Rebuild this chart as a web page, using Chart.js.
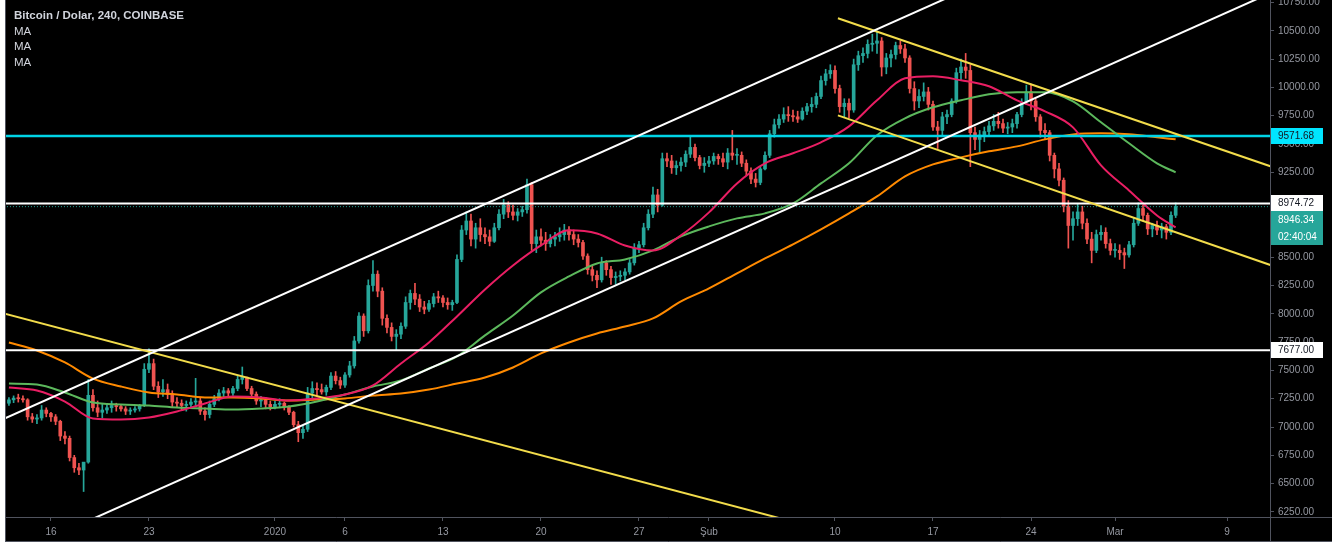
<!DOCTYPE html>
<html>
<head>
<meta charset="utf-8">
<title>Bitcoin / Dolar, 240, COINBASE</title>
<script src="https://cdn.jsdelivr.net/npm/chart.js@4.4.0/dist/chart.umd.min.js"></script>
<style>
  html, body { margin: 0; padding: 0; background: #fff; }
  #wrap { position: relative; width: 1332px; height: 544px; }
  #chart { position: absolute; left: 0; top: 0; }
  #legend {
    position: absolute; left: 14px; top: 8px;
    color: #d1d4dc; font: 11.5px 'Liberation Sans', Arial, sans-serif; line-height: 15.6px;
  }
</style>
</head>
<body>
<div id="wrap">
  <canvas id="chart" width="1332" height="544"></canvas>
  <div id="legend"><b>Bitcoin / Dolar, 240, COINBASE</b><br>MA<br>MA<br>MA</div>
</div>
<script>
// --- Data: 8h candles starting 13 Dec 2019 00:00 (day 1 = 1 Dec 2019) ---
// open of each candle = close of the previous one
const startDay = 13;
const candleStep = 1 / 3;
const firstOpen = 7210;

const highs = [
  // Dec
  7260,7275,7290, 7275,7250,7120, 7110,7190,7170, 7130,7110,7060, 6960,6920,6750,
  6680,6660,7420, 7330,7230,7200, 7200,7230,7210, 7200,7180,7170, 7180,7200,7560,
  7690,7600,7400, 7420,7380,7320, 7260,7240,7230, 7250,7430,7260, 7170,7230,7280,
  7330,7350,7340, 7360,7450,7530, 7440,7360,7310, 7270,7260,7230,
  // Jan
  7230,7250,7220, 7190,7140,7050, 7010,7350,7400, 7390,7380,7370, 7480,7490,7440,
  7480,7580,7800, 8010,8000,8300, 8470,8380,8230, 7990,7920,7860, 7920,8150,8210,
  8270,8170,8110, 8120,8180,8200, 8160,8140,8120, 8520,8780,8900, 8880,8800,8840,
  8760,8740,8800, 8920,9010,8990, 8960,8930,8950, 9190,9160,8740, 8750,8720,8700,
  8720,8760,8790, 8770,8740,8700, 8650,8530,8420, 8380,8500,8470, 8420,8370,8380,
  8400,8480,8620, 8640,8800,8920, 9120,9100,9420, 9420,9400,9350, 9380,9440,9560,
  9500,9400,9380,
  // Feb
  9390,9420,9410, 9420,9460,9620, 9460,9430,9360, 9290,9240,9300, 9430,9620,9720,
  9760,9820,9830, 9800,9790,9820, 9860,9910,9950, 10100,10160,10200, 10190,10020,9900,
  9900,10250,10320, 10350,10420,10470, 10500,10440,10300, 10330,10400,10410, 10380,10280,10050,
  9980,10040,10000, 9880,9700,9780, 9800,9900,10170, 10250,10300,10200, 9650,9620,9650,
  9700,9760,9780, 9720,9690,9720, 9780,9900,10020, 10030,9900,9760, 9680,9620,9420,
  9330,9200,9000, 8900,8970,8950, 8840,8720,8740, 8780,8760,8660,
  // Mar
  8620,8610,8580, 8640,8850,8980, 8960,8890,8800, 8820,8800,8790, 8900,8980
];

const lows = [
  // Dec
  7190,7215,7220, 7220,7060,7040, 7030,7060,7090, 7050,7020,6880, 6850,6700,6600,
  6580,6430,6680, 7140,7090,7080, 7120,7130,7140, 7140,7110,7110, 7130,7140,7180,
  7480,7330,7260, 7270,7250,7180, 7170,7150,7140, 7170,7190,7110, 7060,7080,7180,
  7230,7270,7260, 7280,7320,7380, 7320,7250,7200, 7180,7160,7150,
  // Jan
  7160,7170,7150, 7110,7000,6870, 6900,6960,7250, 7280,7290,7280, 7330,7380,7340,
  7350,7440,7520, 7740,7800,7830, 8200,8150,7900, 7830,7760,7680, 7780,7870,8040,
  8080,8020,8000, 8020,8060,8100, 8060,8040,8030, 8090,8460,8700, 8600,8580,8640,
  8620,8600,8630, 8740,8840,8850, 8830,8820,8860, 8890,8560,8540, 8600,8560,8590,
  8600,8640,8650, 8650,8610,8590, 8480,8350,8290, 8230,8280,8340, 8260,8260,8290,
  8300,8350,8430, 8540,8590,8740, 8850,8900,8950, 9300,9240,9230, 9260,9300,9380,
  9350,9280,9250,
  // Feb
  9300,9320,9320, 9300,9280,9360, 9320,9300,9220, 9150,9120,9140, 9270,9380,9560,
  9640,9690,9700, 9700,9690,9710, 9760,9780,9820, 9900,10020,10080, 9950,9780,9740,
  9730,9780,10150, 10220,10260,10320, 10300,10100,10120, 10180,10250,10300, 10220,9950,9800,
  9820,9880,9800, 9620,9460,9580, 9680,9740,9860, 10060,10080,9300, 9450,9420,9520,
  9580,9620,9640, 9600,9590,9600, 9640,9740,9850, 9800,9700,9560, 9540,9350,9200,
  9130,8900,8580, 8650,8780,8750, 8620,8450,8540, 8650,8580,8520,
  // Mar
  8500,8480,8400, 8500,8590,8780, 8820,8700,8680, 8700,8670,8660, 8700,8850
];

const closes = [
  // Dec
  7240,7255,7250, 7240,7090,7070, 7080,7150,7120, 7090,7050,6920, 6900,6730,6640,
  6620,6690,7280, 7170,7130,7150, 7170,7190,7180, 7160,7140,7150, 7160,7190,7510,
  7560,7360,7310, 7330,7290,7220, 7210,7190,7200, 7220,7230,7140, 7110,7200,7250,
  7300,7320,7300, 7340,7420,7440, 7340,7290,7230, 7240,7200,7180,
  // Jan
  7200,7210,7180, 7130,7020,6950, 6980,7300,7340, 7330,7310,7350, 7450,7410,7370,
  7460,7540,7760, 7980,7850,8250, 8350,8200,7960, 7880,7800,7820, 7890,8100,8180,
  8130,8060,8040, 8090,8150,8140, 8100,8080,8100, 8480,8740,8820, 8660,8760,8700,
  8680,8640,8760, 8880,8960,8900, 8870,8900,8920, 9140,8620,8680, 8650,8620,8660,
  8680,8700,8740, 8700,8660,8630, 8510,8390,8340, 8300,8450,8390, 8320,8330,8340,
  8370,8450,8580, 8610,8760,8880, 9050,8960,9370, 9350,9290,9310, 9340,9410,9470,
  9380,9310,9330,
  // Feb
  9350,9390,9370, 9340,9420,9400, 9400,9330,9260, 9190,9160,9280, 9400,9590,9670,
  9720,9760,9750, 9740,9720,9790, 9830,9850,9920, 10060,10120,10150, 9990,9830,9860,
  9800,10200,10280, 10300,10380,10390, 10410,10180,10260, 10290,10370,10340, 10260,9990,9880,
  9920,9960,9850, 9650,9620,9740, 9760,9880,10130, 10180,10150,9600, 9540,9580,9610,
  9660,9700,9680, 9640,9650,9680, 9760,9870,9960, 9880,9740,9620, 9600,9400,9280,
  9180,8950,8780, 8840,8900,8800, 8660,8560,8700, 8720,8620,8560,
  // Mar
  8560,8540,8520, 8610,8800,8930, 8870,8750,8780, 8740,8770,8720, 8870,8946.34
];

// --- Moving averages, read every other day ---
const maDays = [13,15,17,19,21,23,25,27,29,31,33,35,37,39,41,43,45,47,49,51,53,55,57,59,61,
  63,65,67,69,71,73,75,77,79,81,83,85,87,89,91,93,95,96.33];
const maFast = [7349,7322,7225,7075,7066,7084,7137,7208,7269,7261,7234,7252,7287,7367,7561,
  7747,7977,8215,8427,8604,8737,8710,8604,8560,8693,8896,9152,9329,9418,9515,9656,9886,
  10080,10098,10063,10010,9886,9789,9647,9311,9090,8869,8763];
const maMid = [7384,7375,7305,7216,7199,7190,7172,7163,7154,7163,7181,7225,7287,7358,7411,
  7517,7623,7809,7985,8189,8330,8445,8480,8560,8684,8772,8843,8887,8975,9152,9329,9577,
  9727,9824,9886,9939,9957,9957,9877,9692,9506,9329,9250];
const maSlow = [7747,7676,7570,7428,7358,7305,7287,7261,7261,7252,7234,7243,7252,7278,7296,
  7331,7384,7437,7526,7650,7747,7826,7888,7959,8109,8224,8357,8489,8613,8746,8887,9037,
  9214,9320,9382,9435,9479,9541,9585,9594,9585,9559,9541];

// --- Drawn lines: [day, price] end points ---
const channelUpper = [[12.5, 7064], [80.93, 10841]];
const channelLower = [[18.07, 6138], [103.07, 10832]];
const yellowLong = [[12.36, 8012], [69.5, 6147]];
const yellowTop = [[72.21, 10611], [104.5, 9244]];
const yellowBottom = [[72.21, 9753], [104.5, 8371]];

const levelCyan = 9571.68;
const levelsWhite = [8974.72, 7677];
const lastPrice = 8946.34;
const countdown = '02:40:04';

// --- Axis ticks ---
const yTicks = [6250,6500,6750,7000,7250,7500,7750,8000,8250,8500,8750,9000,9250,9500,9750,10000,10250,10500,10750];
const xTickDays = [16, 23, 32, 37, 44, 51, 58, 63, 72, 79, 86, 92, 100];
const xTickLabels = ['16', '23', '2020', '6', '13', '20', '27', 'Şub', '10', '17', '24', 'Mar', '9'];

// --- Colors ---
const UP = '#26a69a';
const DOWN = '#ef5350';
const AXIS_TEXT = '#9598a1';
const FRAME = '#50535e';
const FONT = "'Liberation Sans', Arial, sans-serif";

const candleX = closes.map((c, i) => startDay + i * candleStep);
const opens = closes.map((c, i) => i === 0 ? firstOpen : closes[i - 1]);
const candleColors = closes.map((c, i) => c >= opens[i] ? UP : DOWN);

function segment(points, color, width, order, dash) {
    return {
        type: 'line',
        data: points.map(p => ({ x: p[0], y: p[1] })),
        borderColor: color,
        borderWidth: width,
        borderDash: dash || [],
        pointRadius: 0,
        tension: 0,
        order: order
    };
}

function maLine(values, color) {
    return {
        type: 'line',
        data: maDays.map((d, i) => ({ x: d, y: values[i] })),
        borderColor: color,
        borderWidth: 2,
        pointRadius: 0,
        cubicInterpolationMode: 'monotone',
        order: 5
    };
}

function level(value) {
    return [[12, value], [104, value]];
}

// axis labels may hang over the edges, like on the trading screen
function noEdgePadding(s) {
    s.paddingTop = 0;
    s.paddingBottom = 0;
    s.paddingLeft = 0;
    s.paddingRight = 0;
}

// --- Background, frame and price labels ---
const framePlugin = {
    id: 'frame',
    beforeDraw(chart) {
        const ctx = chart.ctx;
        ctx.save();
        ctx.fillStyle = '#ffffff';
        ctx.fillRect(0, 0, chart.width, chart.height);
        ctx.fillStyle = '#000000';
        ctx.fillRect(5, 0, chart.width - 5, 542);
        ctx.restore();
    },
    afterDraw(chart) {
        const ctx = chart.ctx;
        const area = chart.chartArea;
        const y = chart.scales.y;
        ctx.save();
        ctx.strokeStyle = FRAME;
        ctx.lineWidth = 1;
        ctx.beginPath();
        ctx.moveTo(5.5, 0); ctx.lineTo(5.5, 542);
        ctx.moveTo(5, 541.5); ctx.lineTo(chart.width, 541.5);
        ctx.moveTo(5, area.bottom + 0.5); ctx.lineTo(chart.width, area.bottom + 0.5);
        ctx.moveTo(area.right + 0.5, 0); ctx.lineTo(area.right + 0.5, 542);
        ctx.stroke();

        function box(top, h, text, bg, fg) {
            ctx.fillStyle = bg;
            ctx.fillRect(area.right + 1, top, 52, h);
            ctx.fillStyle = fg;
            ctx.font = '10px ' + FONT;
            ctx.textBaseline = 'middle';
            ctx.textAlign = 'left';
            ctx.fillText(text, area.right + 8, top + h / 2 + 0.5);
        }
        const cy = Math.round(y.getPixelForValue(levelCyan));
        box(cy - 8, 16, levelCyan.toFixed(2), '#00e5ff', '#131722');
        const wy = Math.round(y.getPixelForValue(levelsWhite[0]));
        box(wy - 8, 16, levelsWhite[0].toFixed(2), '#ffffff', '#131722');
        box(wy + 8, 17, lastPrice.toFixed(2), UP, '#ffffff');
        box(wy + 25, 17, countdown, UP, '#ffffff');
        const ly = Math.round(y.getPixelForValue(levelsWhite[1]));
        box(ly - 8, 16, levelsWhite[1].toFixed(2), '#ffffff', '#131722');
        ctx.restore();
    }
};

new Chart(document.getElementById('chart'), {
    type: 'bar',
    data: {
        datasets: [
            segment(channelUpper, '#ffffff', 2, 1),
            segment(channelLower, '#ffffff', 2, 1),
            segment(yellowLong, '#f2dc4b', 2, 1),
            segment(yellowTop, '#f2dc4b', 2, 1),
            segment(yellowBottom, '#f2dc4b', 2, 1),
            segment(level(levelCyan), '#00d4e6', 2.5, 2),
            segment(level(levelsWhite[0]), '#ffffff', 2, 2),
            segment(level(levelsWhite[1]), '#ffffff', 2, 2),
            segment(level(lastPrice), UP, 1, 2, [1, 2]),
            maLine(maFast, '#e91e63'),
            maLine(maMid, '#5cb85c'),
            maLine(maSlow, '#ff8a00'),
            {
                type: 'bar',
                data: candleX.map((x, i) => ({ x: x, y: [opens[i], closes[i]] })),
                backgroundColor: candleColors,
                barThickness: 3,
                minBarLength: 1,
                grouped: false,
                order: 10
            },
            {
                type: 'bar',
                data: candleX.map((x, i) => ({ x: x, y: [lows[i], highs[i]] })),
                backgroundColor: candleColors,
                barThickness: 1,
                grouped: false,
                order: 11
            }
        ]
    },
    options: {
        responsive: false,
        animation: false,
        devicePixelRatio: 1,
        layout: { padding: { left: 6, right: 0, top: 0, bottom: 2 } },
        plugins: { legend: { display: false }, tooltip: { enabled: false } },
        scales: {
            x: {
                type: 'linear',
                min: 12.79,
                max: 103.07,
                offset: false,
                afterFit: s => { s.height = 25; noEdgePadding(s); },
                afterBuildTicks: s => { s.ticks = xTickDays.map(v => ({ value: v })); },
                grid: { drawOnChartArea: false, drawTicks: true, tickLength: 4, color: FRAME, offset: false },
                border: { display: false },
                ticks: {
                    autoSkip: false,
                    maxRotation: 0,
                    padding: 5,
                    color: AXIS_TEXT,
                    font: { family: FONT, size: 10 },
                    callback: (v, i) => xTickLabels[i]
                }
            },
            y: {
                type: 'linear',
                position: 'right',
                min: 6205,
                max: 10772,
                afterFit: s => { s.width = 62; noEdgePadding(s); },
                afterBuildTicks: s => { s.ticks = yTicks.map(v => ({ value: v })); },
                grid: { drawOnChartArea: false, drawTicks: true, tickLength: 4, color: FRAME },
                border: { display: false },
                ticks: {
                    padding: 4,
                    color: AXIS_TEXT,
                    font: { family: FONT, size: 10 },
                    callback: v => Number(v).toFixed(2)
                }
            }
        }
    },
    plugins: [framePlugin]
});
</script>
</body>
</html>
